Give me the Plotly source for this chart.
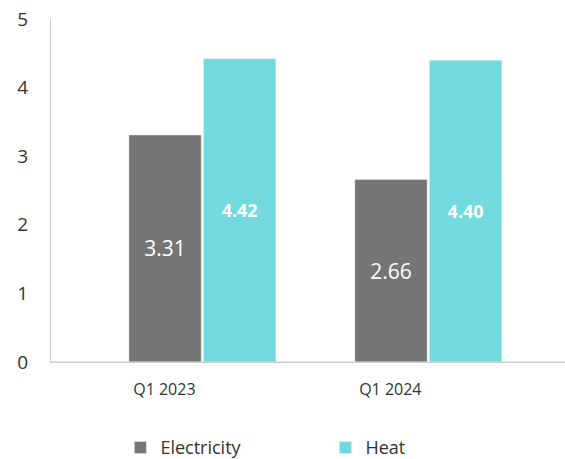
import plotly.graph_objects as go

categories = ["Q1 2023", "Q1 2024"]
electricity = [3.31, 2.66]
heat = [4.42, 4.40]
y_ticks = [0, 1, 2, 3, 4, 5]

GREY = "#757575"
CYAN = "#72D9DF"
FONT = "Open Sans"

fig = go.Figure()
fig.add_trace(go.Bar(
    name="Electricity", x=categories, y=electricity, marker_color=GREY,
    text=[f"{v:.2f}" for v in electricity], textposition="inside",
    insidetextanchor="middle", textangle=0,
    textfont=dict(family=FONT, size=21, color="white"),
))
fig.add_trace(go.Bar(
    name="Heat", x=categories, y=heat, marker_color=CYAN,
    text=[f"<b>{v:.2f}</b>" for v in heat], textposition="inside",
    insidetextanchor="middle", textangle=0,
    textfont=dict(family=FONT, size=18, color="white"),
))

fig.update_layout(
    width=565, height=459,
    margin=dict(l=51, r=0, t=19, b=97, autoexpand=False),
    paper_bgcolor="white", plot_bgcolor="white",
    barmode="group", bargap=0.34, bargroupgap=0.03,
    font=dict(family=FONT, color="#333333"),
    showlegend=True,
    legend=dict(orientation="h", x=0.135, y=-0.25, xanchor="left", yanchor="middle",
                font=dict(size=18, color="#333333"), entrywidth=160,
                itemwidth=30, bgcolor="rgba(0,0,0,0)"),
    shapes=[dict(type="line", xref="paper", yref="paper", x0=0, x1=1.05, y0=0, y1=0,
                 line=dict(color="#cccccc", width=1), layer="above")],
)
fig.update_xaxes(
    range=[-0.67, 1.605], showline=True, linecolor="#cccccc", linewidth=1,
    showgrid=False, ticks="", tickfont=dict(size=16, color="#333333"),
    ticklabelstandoff=13, ticklabelshift=-38, automargin=False,
)
fig.update_yaxes(
    range=[0, 5], tickvals=y_ticks, showline=True, linecolor="#cccccc", linewidth=1,
    showgrid=False, zeroline=False, ticks="", tickfont=dict(size=19, color="#333333"),
    ticklabelstandoff=18, automargin=False,
)

fig.write_html(
    "out.html",
    config={"displayModeBar": False},
    post_script="document.body.style.margin='0';document.body.style.overflow='hidden';"
                "document.documentElement.style.overflow='hidden';",
)
